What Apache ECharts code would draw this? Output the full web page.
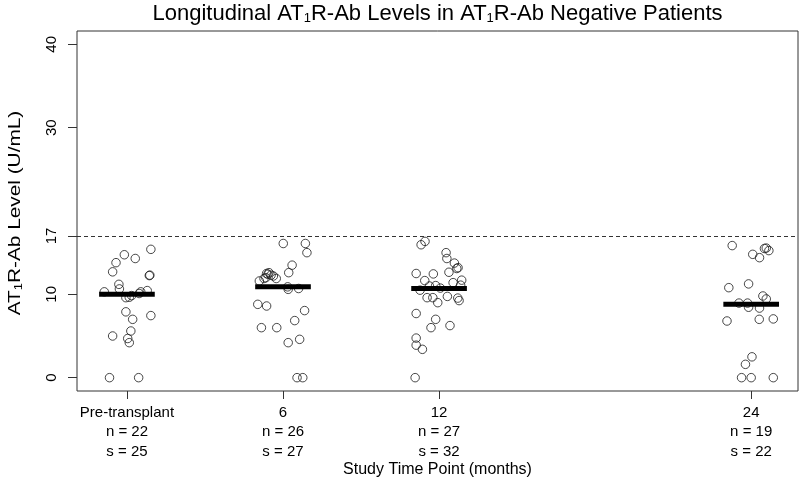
<!DOCTYPE html>
<html>
<head>
<meta charset="utf-8">
<script src="https://cdn.jsdelivr.net/npm/echarts@6/dist/echarts.min.js"></script>
<style>html,body{margin:0;padding:0;background:#fff}#c{width:800px;height:481px}</style>
</head>
<body>
<div id="c"></div>
<script>
// ---- data ----
const timePoints = [0, 6, 12, 24];
const timeLabels = ['Pre-transplant', '6', '12', '24'];
const nPatients = [22, 26, 27, 19];
const nSamples = [25, 27, 32, 22];
const medians = [10.0, 10.9, 10.7, 8.8];
const yTicks = [0, 10, 17, 30, 40];
const cutoff = 17;
// [jitter offset (months), level (U/mL)]
const prePoints = [[0.92,15.4],[-0.1,14.75],[0.32,14.3],[-0.42,13.8],[-0.55,12.7],[0.88,12.3],[0.86,12.25],[-0.31,11.2],[-0.29,10.65],[-0.87,10.3],[0.53,10.3],[0.78,10.45],[0.47,10.1],[-0.04,9.6],[0.09,9.65],[0.18,9.85],[-0.04,7.9],[0.22,7.0],[0.92,7.45],[0.15,5.6],[-0.55,5.0],[0.03,4.7],[0.09,4.2],[-0.67,0],[0.45,0]];
const m6Points = [[0.01,16.1],[0.86,16.1],[0.92,15.0],[0.35,13.5],[0.22,12.6],[-0.91,11.6],[-0.73,11.9],[-0.63,12.5],[-0.54,12.6],[-0.46,12.3],[-0.37,12.2],[-0.26,11.9],[-0.58,12.4],[-0.66,12.0],[0.18,10.9],[0.2,10.6],[0.6,10.7],[-0.97,8.8],[-0.63,8.6],[0.83,8.05],[0.45,6.85],[-0.83,6.0],[-0.24,6.0],[0.64,4.6],[0.2,4.2],[0.54,0],[0.76,0]];
const m12Points = [[-0.69,15.95],[-0.54,16.35],[0.27,15.0],[0.3,14.3],[0.59,13.75],[0.68,13.1],[0.73,13.2],[0.38,12.65],[-0.88,12.5],[-0.22,12.45],[-0.55,11.65],[0.87,11.7],[0.54,11.4],[0.83,11.1],[-0.13,11.05],[-0.37,11.0],[-0.73,10.5],[0.05,10.75],[-0.46,9.6],[-0.24,9.6],[-0.05,9.0],[0.32,9.75],[0.72,9.55],[0.77,9.25],[-0.88,7.7],[-0.13,7.0],[-0.31,6.0],[0.42,6.25],[-0.88,4.75],[-0.88,3.9],[-0.64,3.4],[-0.92,0]];
const m24Points = [[-0.73,15.85],[0.51,15.5],[0.58,15.55],[0.68,15.25],[0.06,14.8],[0.32,14.4],[-0.1,11.25],[-0.86,10.8],[0.45,9.8],[0.58,9.45],[-0.47,8.95],[-0.14,8.95],[-0.1,8.45],[0.32,8.35],[-0.93,6.8],[0.31,7.0],[0.85,7.05],[0.03,2.5],[-0.22,1.6],[-0.37,0],[0,0],[0.85,0]];
const groups = [prePoints, m6Points, m12Points, m24Points];

// ---- styling ----
const FONT = "'Liberation Sans', Arial, Helvetica, sans-serif";
const barHalf = 1.07;

const scatterData = [];
groups.forEach((g, i) => g.forEach(p => scatterData.push([timePoints[i] + p[0], p[1]])));

const series = [{
  type: 'scatter',
  data: scatterData,
  symbol: 'circle',
  symbolSize: 8.5,
  itemStyle: { color: 'rgba(0,0,0,0)', borderColor: '#1a1a1a', borderWidth: 1 },
  markLine: {
    silent: true, symbol: 'none', label: { show: false },
    lineStyle: { type: [4, 3], color: '#333', width: 1 },
    data: [{ yAxis: cutoff }]
  },
  z: 2
}];
timePoints.forEach((t, i) => {
  series.push({
    type: 'line',
    data: [[t - barHalf, medians[i]], [t + barHalf, medians[i]]],
    symbol: 'none',
    lineStyle: { color: '#000', width: 5, cap: 'butt' },
    z: 3
  });
});

const chart = echarts.init(document.getElementById('c'), null, { renderer: 'canvas' });
chart.setOption({
  animation: false,
  backgroundColor: '#fff',
  grid: { left: 77, right: 2, top: 31, bottom: 90, show: true, borderColor: '#333', borderWidth: 1, backgroundColor: 'transparent' },
  xAxis: {
    type: 'value', min: -1.92, max: 25.8,
    axisLine: { show: false, onZero: false }, splitLine: { show: false },
    axisTick: { show: true, customValues: timePoints, length: 8, lineStyle: { color: '#333' } },
    axisLabel: {
      customValues: timePoints, margin: 12, fontSize: 15, lineHeight: 19.5, color: '#000', fontFamily: FONT,
      formatter: v => { const i = timePoints.indexOf(v); return i < 0 ? '' : timeLabels[i] + '\nn = ' + nPatients[i] + '\ns = ' + nSamples[i]; }
    }
  },
  yAxis: {
    type: 'value', min: -1.6, max: 41.6,
    axisLine: { show: false, onZero: false }, splitLine: { show: false },
    axisTick: { show: true, customValues: yTicks, length: 9, lineStyle: { color: '#333' } },
    axisLabel: { customValues: yTicks, rotate: 90, margin: 18, fontSize: 15, color: '#000', fontFamily: FONT }
  },
  graphic: [
    { type: 'text', x: 437.5, y: 14, z: 10,
      style: { text: 'Longitudinal AT{sub|1}R-Ab Levels in AT{sub|1}R-Ab Negative Patients', fontFamily: FONT, fontSize: 22, fill: '#000', align: 'center', verticalAlign: 'middle',
        rich: { sub: { fontSize: 13, verticalAlign: 'bottom', lineHeight: 13, fontFamily: FONT, fill: '#000' } } } },
    { type: 'text', x: 16, y: 213, rotation: Math.PI / 2, scaleX: 1.3, z: 10,
      style: { text: 'AT{sub|1}R-Ab Level (U/mL)', fontFamily: FONT, fontSize: 16, fill: '#000', align: 'center', verticalAlign: 'middle',
        rich: { sub: { fontSize: 10, verticalAlign: 'bottom', lineHeight: 10, fontFamily: FONT, fill: '#000' } } } },
    { type: 'text', x: 437.5, y: 470, z: 10,
      style: { text: 'Study Time Point (months)', fontFamily: FONT, fontSize: 16, fill: '#000', align: 'center', verticalAlign: 'middle' } }
  ],
  series: series
});
</script>
</body>
</html>
